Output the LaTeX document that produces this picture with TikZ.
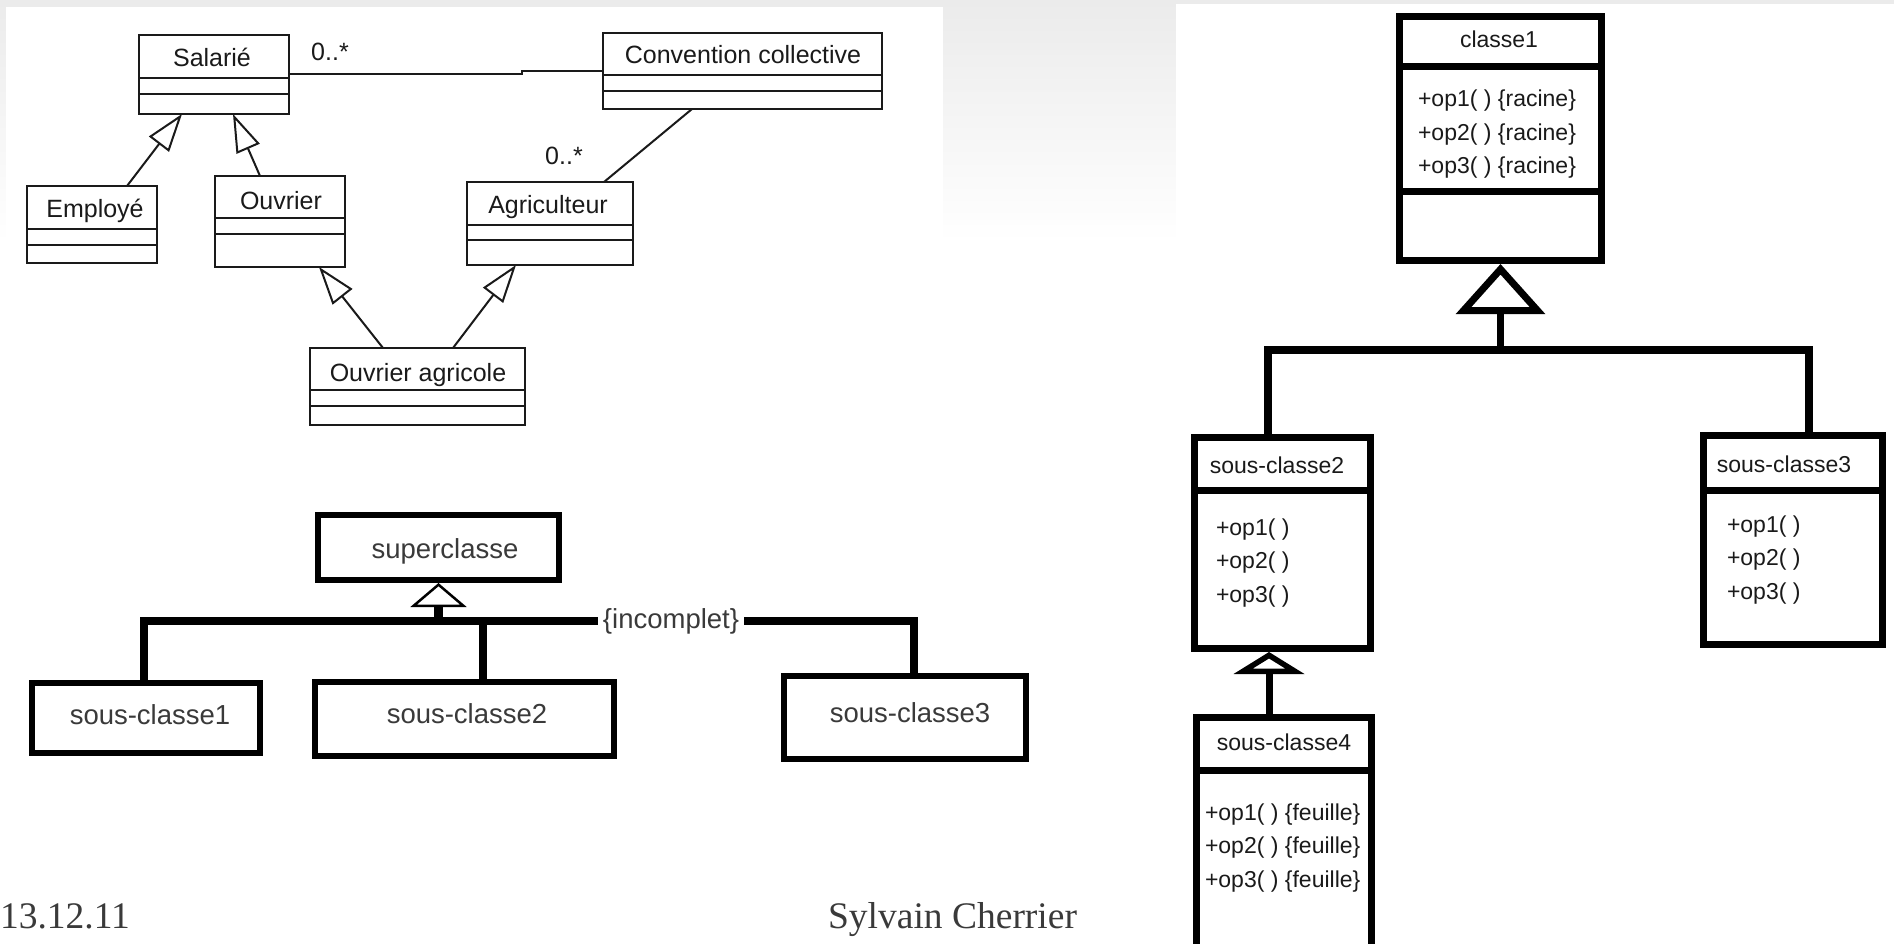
\documentclass[tikz,border=0pt]{standalone}
\usepackage{fontspec}
\setmainfont{Liberation Sans}
\newfontfamily\footerfont{Liberation Serif}
\usetikzlibrary{arrows.meta,calc}
\definecolor{ink}{HTML}{1A1A1A}
\definecolor{softink}{HTML}{3A3A3A}
\definecolor{slidegray}{HTML}{EBEBEB}
\begin{document}
\begin{tikzpicture}[x=1pt,y=-1pt,
  every node/.style={inner sep=0pt, outer sep=0pt},
  thinbox/.style={draw=ink, line width=2pt},
  thinline/.style={draw=ink, line width=2pt},
  gen/.style={thinline, -{Triangle[open, length=38pt, width=25pt, line width=2pt]}},
  midbox/.style={draw=black, line width=6pt},
  boldbox/.style={draw=black, line width=7pt},
  tltext/.style={font=\fontsize{25}{30}\selectfont, text=ink, anchor=base},
  bltext/.style={font=\fontsize{27.5}{33}\selectfont, text=softink, anchor=base},
  rtext/.style={font=\fontsize{23}{28}\selectfont, text=ink, anchor=base},
  rops/.style={rtext, anchor=base west},
  foot/.style={font=\footerfont\fontsize{37.5}{42}\selectfont, text=softink},
]
% slide background with the two pasted figures
\path[use as bounding box, clip] (0,0) rectangle (1894,944);
\fill[white] (0,0) rectangle (1894,944);
\shade[top color=slidegray, bottom color=white] (0,0) rectangle (1894,243);
\fill[white] (6,7) rectangle (943,250);
\fill[white] (1176,4) rectangle (1894,944);

% ---------- multiple inheritance (thin notation) ----------
\node[thinbox, minimum width=150pt, minimum height=79pt] (salarie) at (214,74.5) {};
\node[thinbox, minimum width=279pt, minimum height=76pt] (convention) at (742.5,71) {};
\node[thinbox, minimum width=130pt, minimum height=77pt] (employe) at (92,224.5) {};
\node[thinbox, minimum width=130pt, minimum height=91pt] (ouvrier) at (280,221.5) {};
\node[thinbox, minimum width=166pt, minimum height=83pt] (agriculteur) at (550,223.5) {};
\node[thinbox, minimum width=215pt, minimum height=77pt] (ouvagri) at (417.5,386.5) {};

\draw[thinline] (salarie.west |- 0,78) -- (salarie.east |- 0,78);
\draw[thinline] (salarie.west |- 0,94) -- (salarie.east |- 0,94);
\draw[thinline] (convention.west |- 0,75) -- (convention.east |- 0,75);
\draw[thinline] (convention.west |- 0,91) -- (convention.east |- 0,91);
\draw[thinline] (employe.west |- 0,229) -- (employe.east |- 0,229);
\draw[thinline] (employe.west |- 0,245) -- (employe.east |- 0,245);
\draw[thinline] (ouvrier.west |- 0,218) -- (ouvrier.east |- 0,218);
\draw[thinline] (ouvrier.west |- 0,234) -- (ouvrier.east |- 0,234);
\draw[thinline] (agriculteur.west |- 0,225) -- (agriculteur.east |- 0,225);
\draw[thinline] (agriculteur.west |- 0,240) -- (agriculteur.east |- 0,240);
\draw[thinline] (ouvagri.west |- 0,390) -- (ouvagri.east |- 0,390);
\draw[thinline] (ouvagri.west |- 0,406) -- (ouvagri.east |- 0,406);

\node[tltext] (salarie-name) at (212,67) {Salarié};
\node[tltext] (convention-name) at (743,64) {Convention collective};
\node[tltext] (employe-name) at (95,218) {Employé};
\node[tltext] (ouvrier-name) at (281,209) {Ouvrier};
\node[tltext] (agriculteur-name) at (548,213) {Agriculteur};
\node[tltext] (ouvagri-name) at (418,381) {Ouvrier agricole};
\node[tltext] (mult1) at (330,61) {0..*};
\node[tltext] (mult2) at (564,165) {0..*};

% associations
\draw[thinline] (salarie.east) -- ++(233,0) |- (convention.west);
\draw[thinline] ($(convention.south west)+(89,0)$) -- ($(agriculteur.north west)+(137,0)$);
% generalisations
\draw[gen] ($(employe.north west)+(100,0)$) -- ($(salarie.south west)+(43,0)$);
\draw[gen] ($(ouvrier.north west)+(45,0)$) -- ($(salarie.south west)+(94,0)$);
\draw[gen] ($(ouvagri.north west)+(73,0)$) -- ($(ouvrier.south west)+(104,0)$);
\draw[gen] ($(ouvagri.north west)+(143,0)$) -- ($(agriculteur.south west)+(49,0)$);

% ---------- incomplete generalisation ----------
\node[midbox, minimum width=241pt, minimum height=65pt] (superclasse) at (438.5,547.5) {};
\node[midbox, minimum width=228pt, minimum height=70pt] (bl1) at (146,718) {};
\node[midbox, minimum width=299pt, minimum height=74pt] (bl2) at (464.5,719) {};
\node[midbox, minimum width=242pt, minimum height=83pt] (bl3) at (905,717.5) {};
\node[bltext] (superclasse-name) at (445,558) {superclasse};
\node[bltext] (bl1-name) at (150,724) {sous-classe1};
\node[bltext] (bl2-name) at (467,723) {sous-classe2};
\node[bltext] (bl3-name) at (910,722) {sous-classe3};
\node[bltext, inner xsep=5pt] (incomplet) at (671,628) {\{incomplet\}};
\coordinate (hub0) at (483,620);

\draw[line width=8.5pt] ($(bl1.north)+(-2,0)$) |- (incomplet.west);
\draw[line width=8.5pt] (incomplet.east) -| ($(bl3.north)+(9,0)$);
\draw[line width=8pt] ($(bl2.north)+(18.5,0)$) -- (hub0);
\draw[line width=9pt, -{Triangle[fill=white, length=24pt, width=56pt, line width=2.5pt]}]
  (superclasse.south |- incomplet.west) -- ($(superclasse.south)+(0,3)$);

% ---------- operations redefined along the hierarchy ----------
\node[boldbox, minimum width=202pt, minimum height=244pt] (classe1) at (1500.5,138.5) {};
\draw[boldbox] (classe1.west |- 0,67) -- (classe1.east |- 0,67);
\draw[boldbox] (classe1.west |- 0,192) -- (classe1.east |- 0,192);
\node[boldbox, minimum width=176pt, minimum height=211pt] (r2) at (1282.5,543) {};
\draw[boldbox] (r2.west |- 0,490) -- (r2.east |- 0,490);
\node[boldbox, minimum width=179pt, minimum height=209pt] (r3) at (1793,540) {};
\draw[boldbox] (r3.west |- 0,490) -- (r3.east |- 0,490);
\node[boldbox, minimum width=175pt, minimum height=252.5pt] (r4) at (1284,843.75) {};
\draw[boldbox] (r4.west |- 0,770) -- (r4.east |- 0,770);

\node[rtext] (classe1-name) at (1499,48) {classe1};
\node[rtext] (c1-op1) at (1497,107) {+op1( ) \{racine\}};
\node[rtext] (c1-op2) at (1497,141) {+op2( ) \{racine\}};
\node[rtext] (c1-op3) at (1497,174) {+op3( ) \{racine\}};
\node[rtext] (r2-name) at (1277,473) {sous-classe2};
\node[rops] (r2-op1) at (1216,535) {+op1( )};
\node[rops] (r2-op2) at (1216,568) {+op2( )};
\node[rops] (r2-op3) at (1216,602) {+op3( )};
\node[rtext] (r3-name) at (1784,472) {sous-classe3};
\node[rops] (r3-op1) at (1727,532) {+op1( )};
\node[rops] (r3-op2) at (1727,565) {+op2( )};
\node[rops] (r3-op3) at (1727,599) {+op3( )};
\node[rtext] (r4-name) at (1284,750) {sous-classe4};
\node[rops] (r4-op1) at (1205,820) {+op1( ) \{feuille\}};
\node[rops] (r4-op2) at (1205,853) {+op2( ) \{feuille\}};
\node[rops] (r4-op3) at (1205,887) {+op3( ) \{feuille\}};

\coordinate (hub1) at (1500.5,350);
\draw[line width=8pt] ($(r2.north)+(-14.5,0)$) |- (hub1) -| ($(r3.north)+(16,0)$);
\draw[line width=7pt, -{Triangle[open, length=50pt, width=88pt, line width=7pt]}]
  (hub1) -- ($(classe1.south)+(0,3.5)$);
\draw[line width=7pt, -{Triangle[open, length=22pt, width=70pt, line width=7pt]}]
  ($(r4.north)+(-15,0)$) -- ($(r2.south)+(-13.5,3.5)$);

% ---------- slide footer ----------
\node[foot, anchor=base west] (date) at (0,928) {13.12.11};
\node[foot, anchor=base east] (author) at (1077,928) {Sylvain Cherrier};
\end{tikzpicture}
\end{document}
